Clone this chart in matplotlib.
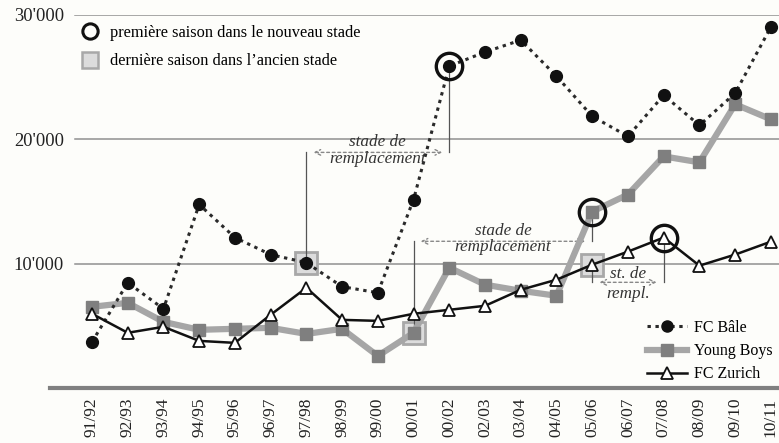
import matplotlib
matplotlib.use("Agg")
import matplotlib.pyplot as plt
from matplotlib.lines import Line2D

plt.rcParams['font.family'] = ['Liberation Serif', 'DejaVu Serif']

seasons = ["91/92", "92/93", "93/94", "94/95", "95/96", "96/97", "97/98", "98/99",
           "99/00", "00/01", "00/02", "02/03", "03/04", "04/05", "05/06", "06/07",
           "07/08", "08/09", "09/10", "10/11"]
basel = [3700, 8470, 6370, 14760, 12100, 10730, 10080, 8150, 7660, 15160,
         25890, 27020, 27980, 25080, 21850, 20240, 23550, 21130, 23710, 29030]
young_boys = [6530, 6850, 5320, 4680, 4760, 4840, 4350, 4760, 2580, 4440,
              9680, 8310, 7820, 7420, 14190, 15560, 18630, 18150, 22820, 21610]
zurich = [5970, 4440, 4920, 3790, 3630, 5890, 8060, 5480, 5400, 5970,
          6290, 6610, 7900, 8710, 9920, 10970, 12100, 9840, 10730, 11770]
yticks = [10000, 20000, 30000]
ytick_labels = ["10'000", "20'000", "30'000"]

# new stadium (circle) / last season old stadium (square): (series, index)
first_new = [(basel, 10), (young_boys, 14), (zurich, 16)]
last_old = [(basel, 6), (young_boys, 9), (zurich, 14)]

W, H = 779, 443
fig = plt.figure(figsize=(W / 100, H / 100), dpi=100)
bg = '#fdfdfa'
fig.patch.set_facecolor(bg)
ax = fig.add_axes([50 / W, 55 / H, (W - 50) / W, (428 - 55) / H])
ax.set_facecolor(bg)

x = list(range(len(seasons)))
sp = 35.73
ax.set_xlim((50 - 92) / sp, (779 - 92) / sp)
ax.set_ylim(0, 30000)

for s in ['top', 'right', 'left']:
    ax.spines[s].set_visible(False)
ax.spines['bottom'].set_color('#808080')
ax.spines['bottom'].set_linewidth(3)

gx0 = (75 - 50) / (W - 50)
for yt in yticks:
    ax.axhline(yt, xmin=gx0, xmax=1, color='#909090', lw=1.1, zorder=1)

ax.set_yticks(yticks)
ax.set_yticklabels(ytick_labels, fontsize=13.3, color='#222')
ax.tick_params(axis='y', length=0, pad=-10)
ax.set_xticks(x)
ax.set_xticklabels(seasons, rotation=90, fontsize=12.5, color='#222')
ax.tick_params(axis='x', length=0, pad=7)

# highlight markers
for ser, i in last_old:
    ax.plot(x[i], ser[i], marker='s', ms=16, mfc='#dcdcdc', mec='#a8a8a8', mew=2,
            ls='none', zorder=2, clip_on=False)

# series
ax.plot(x, young_boys, color='#a6a6a6', lw=4.5, marker='s', ms=8, mfc='#7f7f7f',
        mec='#7f7f7f', zorder=3, clip_on=False)
ax.plot(x, basel, color='#2a2a2a', lw=2.2, ls=(0, (1.1, 1.5)), marker='o', ms=8.5,
        mfc='#111', mec='#111', zorder=4, clip_on=False)
ax.plot(x, zurich, color='#111', lw=1.8, marker='^', ms=9, mfc='white',
        mec='#111', mew=1.3, zorder=5, clip_on=False)

for ser, i in first_new:
    ax.plot(x[i], ser[i], marker='o', ms=19, mfc='none', mec='#111', mew=2.4,
            ls='none', zorder=6, clip_on=False)

# annotations
def bracket(i0, y0, i1, y1, ya, t1, t2, dy1, dy2):
    ax.plot([x[i0], x[i0]], [y0, ya], color='#555', lw=0.9, zorder=2)
    ax.plot([x[i1], x[i1]], [y1, ya], color='#555', lw=0.9, zorder=2)
    ax.annotate('', xy=(x[i0] + 0.2, ya), xytext=(x[i1] - 0.2, ya),
                arrowprops=dict(arrowstyle='<->', color='#888', lw=1,
                                ls=(0, (2, 2)), shrinkA=0, shrinkB=0), zorder=2)
    xm = (x[i0] + x[i1]) / 2
    ax.text(xm, ya + dy1, t1, ha='center', va='center', style='italic',
            fontsize=12.3, color='#333', zorder=7)
    ax.text(xm, ya + dy2, t2, ha='center', va='center', style='italic',
            fontsize=12.3, color='#333', zorder=7)

bracket(6, basel[6], 10, basel[10], 18950, 'stade de', 'remplacement', 850, -550)
bracket(9, young_boys[9], 14, young_boys[14], 11800, 'stade de', 'remplacement', 800, -450)
bracket(14, zurich[14], 16, zurich[16], 8500, 'st. de', 'rempl.', 650, -900)

# top-left legend
h1 = Line2D([], [], marker='o', ms=11, mfc='none', mec='#111', mew=2.2, ls='none')
h2 = Line2D([], [], marker='s', ms=12, mfc='#dcdcdc', mec='#a8a8a8', mew=1.8, ls='none')
leg1 = ax.legend([h1, h2], ['première saison dans le nouveau stade',
                            'dernière saison dans l\u2019ancien stade'],
                 loc='upper left', bbox_to_anchor=(80 / W, 1 - 25 / H),
                 bbox_transform=fig.transFigure, frameon=False, fontsize=11.8,
                 handlelength=1.2, handletextpad=0.6, labelspacing=0.75,
                 borderaxespad=0, borderpad=0)
ax.add_artist(leg1)

hb = Line2D([], [], color='#2a2a2a', lw=2.2, ls=(0, (1.1, 1.5)), marker='o', ms=8,
            mfc='#111', mec='#111')
hy = Line2D([], [], color='#a6a6a6', lw=4.5, marker='s', ms=8, mfc='#7f7f7f',
            mec='#7f7f7f')
hz = Line2D([], [], color='#111', lw=1.8, marker='^', ms=9, mfc='white',
            mec='#111', mew=1.3)
ax.legend([hb, hy, hz], ['FC Bâle', 'Young Boys', 'FC Zurich'],
          loc='upper left', bbox_to_anchor=(647 / W, 1 - 320 / H),
          bbox_transform=fig.transFigure, frameon=False, fontsize=11.5,
          handlelength=2.5, handletextpad=0.45, labelspacing=0.45,
          borderaxespad=0, borderpad=0)

fig.savefig('out.png', dpi=100, facecolor=bg)
